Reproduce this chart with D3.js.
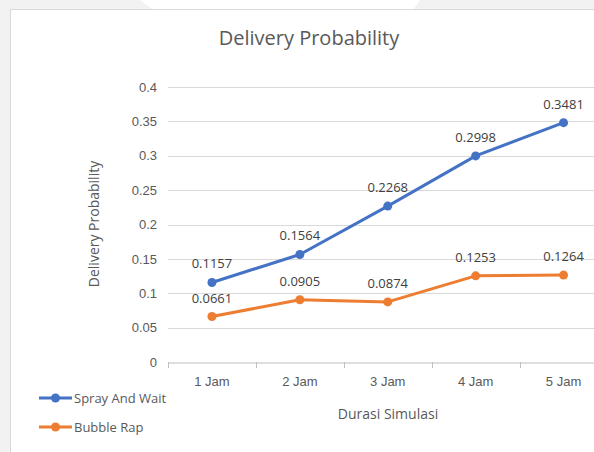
<!DOCTYPE html>
<html><head><meta charset="utf-8">
<script src="https://cdn.jsdelivr.net/npm/d3@7/dist/d3.min.js"></script>
<style>
html,body{margin:0;padding:0;background:#f2f2f2;overflow:hidden;}
svg{display:block;font-family:"Open Sans","Noto Sans",sans-serif;}
</style></head>
<body>
<svg id="chart" width="594" height="452"></svg>
<script>
const categories = ["1 Jam","2 Jam","3 Jam","4 Jam","5 Jam"];
const sprayAndWait = [0.1157,0.1564,0.2268,0.2998,0.3481];
const bubbleRap = [0.0661,0.0905,0.0874,0.1253,0.1264];
const yTicks = [0,0.05,0.1,0.15,0.2,0.25,0.3,0.35,0.4];
const seriesNames = ["Spray And Wait","Bubble Rap"];
const seriesColors = ["#4472C4","#ED7D31"];

const svg = d3.select("#chart");
// background decor
svg.append("rect").attr("x",0).attr("y",0).attr("width",594).attr("height",452).attr("fill","#f2f2f2");
svg.append("polygon").attr("points","140,0 420,0 414,9 152,9").attr("fill","#ffffff");
svg.append("rect").attr("x",10.5).attr("y",9.5).attr("width",600).attr("height",460)
  .attr("fill","#ffffff").attr("stroke","#d9d9d9").attr("stroke-width",1);

const x = d3.scaleBand().domain(categories).range([168,607.5]);
const y = d3.scaleLinear().domain([0,0.4]).range([362,87]);

// gridlines
svg.append("g").selectAll("line").data(yTicks.filter(d=>d>0)).join("line")
  .attr("x1",168).attr("x2",607).attr("y1",d=>Math.round(y(d))+0.5).attr("y2",d=>Math.round(y(d))+0.5)
  .attr("stroke","#d9d9d9").attr("stroke-width",1);

// y axis labels
const yAxis = d3.axisLeft(y).tickValues(yTicks).tickSize(0).tickPadding(11).tickFormat(d=>d3.format("")(d));
const gy = svg.append("g").attr("transform","translate(168,0)").call(yAxis);
gy.select(".domain").remove();
gy.selectAll("text").attr("fill","#595959").style("font-size","13px");

// x axis
const xAxis = d3.axisBottom(x).tickSize(0).tickPadding(14);
const gx = svg.append("g").attr("transform","translate(0,"+(Math.round(y(0))+0.5)+")").call(xAxis);
gx.select(".domain").attr("stroke","#bfbfbf");
gx.selectAll("text").attr("fill","#595959").style("font-size","13px");
// boundary ticks
svg.append("g").selectAll("line").data(categories.concat(["end"])).join("line")
  .attr("x1",(d,i)=>Math.round(x.range()[0]+i*x.step())+0.5)
  .attr("x2",(d,i)=>Math.round(x.range()[0]+i*x.step())+0.5)
  .attr("y1",Math.round(y(0))).attr("y2",Math.round(y(0))+6)
  .attr("stroke","#bfbfbf");

// lines
const cx = d => x(d)+x.bandwidth()/2;
const allSeries = [sprayAndWait,bubbleRap];
const line = d3.line().x((d,i)=>cx(categories[i])).y(d=>y(d));
allSeries.forEach((s,k)=>{
  svg.append("path").datum(s).attr("d",line).attr("fill","none")
    .attr("stroke",seriesColors[k]).attr("stroke-width",3).attr("stroke-linejoin","round").attr("stroke-linecap","round");
  svg.append("g").selectAll("circle").data(s).join("circle")
    .attr("cx",(d,i)=>cx(categories[i])).attr("cy",d=>y(d)).attr("r",4.5).attr("fill",seriesColors[k]);
  svg.append("g").selectAll("text").data(s).join("text")
    .attr("x",(d,i)=>cx(categories[i])).attr("y",d=>y(d)-14)
    .attr("text-anchor","middle").attr("fill","#404040").style("font-size","13px")
    .text(d=>d3.format(".4f")(d));
});

// title
svg.append("text").attr("x",309).attr("y",45).attr("text-anchor","middle")
  .attr("fill","#595959").style("font-size","20px").text("Delivery Probability");
// axis titles
svg.append("text").attr("transform","translate(99,224) rotate(-90)").attr("text-anchor","middle")
  .attr("fill","#595959").style("font-size","14px").text("Delivery Probability");
svg.append("text").attr("x",388).attr("y",419).attr("text-anchor","middle")
  .attr("fill","#595959").style("font-size","14px").text("Durasi Simulasi");

// legend
seriesNames.forEach((n,k)=>{
  const ly = 398 + k*29;
  const g = svg.append("g");
  g.append("line").attr("x1",39).attr("x2",72).attr("y1",ly).attr("y2",ly)
    .attr("stroke",seriesColors[k]).attr("stroke-width",3);
  g.append("circle").attr("cx",55.5).attr("cy",ly).attr("r",4.5).attr("fill",seriesColors[k]);
  g.append("text").attr("x",74).attr("y",ly+4.5).attr("fill","#595959").style("font-size","13px").text(n);
});
</script>
</body></html>
